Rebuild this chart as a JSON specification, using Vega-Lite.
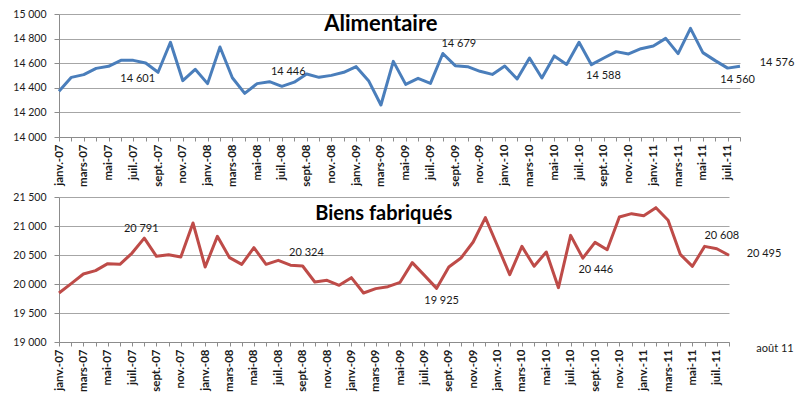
{
  "$schema": "https://vega.github.io/schema/vega-lite/v6.json",
  "background": "white",
  "padding": {"left": 12, "top": 9, "right": 2, "bottom": 2},
  "config": {
    "font": "Lato",
    "locale": {"number": {"decimal": ",", "thousands": "\u00a0", "grouping": [3], "currency": ["", " €"]}},
    "view": {"stroke": null},
    "axis": {"domainColor": "#8c8c8c", "tickColor": "#8c8c8c", "gridColor": "#a6a6a6", "labelColor": "#1a1a1a", "labelFont": "Lato", "title": null},
    "text": {"font": "Lato", "fontSize": 11, "color": "#1a1a1a"}
  },
  "datasets": {
    "d": [
      {"mois": "janv.-07", "alim": 14371, "biens": 19845},
      {"mois": "févr.-07", "alim": 14485, "biens": 20006},
      {"mois": "mars-07", "alim": 14507, "biens": 20172},
      {"mois": "avr.-07", "alim": 14558, "biens": 20230},
      {"mois": "mai-07", "alim": 14575, "biens": 20351},
      {"mois": "juin-07", "alim": 14623, "biens": 20339},
      {"mois": "juil.-07", "alim": 14623, "biens": 20534},
      {"mois": "août-07", "alim": 14601, "biens": 20791},
      {"mois": "sept.-07", "alim": 14526, "biens": 20477},
      {"mois": "oct.-07", "alim": 14770, "biens": 20506},
      {"mois": "nov.-07", "alim": 14458, "biens": 20466},
      {"mois": "déc.-07", "alim": 14550, "biens": 21052},
      {"mois": "janv.-08", "alim": 14434, "biens": 20293},
      {"mois": "févr.-08", "alim": 14732, "biens": 20822},
      {"mois": "mars-08", "alim": 14482, "biens": 20454},
      {"mois": "avr.-08", "alim": 14355, "biens": 20339},
      {"mois": "mai-08", "alim": 14434, "biens": 20626},
      {"mois": "juin-08", "alim": 14450, "biens": 20339},
      {"mois": "juil.-08", "alim": 14412, "biens": 20408},
      {"mois": "août-08", "alim": 14446, "biens": 20324},
      {"mois": "sept.-08", "alim": 14512, "biens": 20310},
      {"mois": "oct.-08", "alim": 14485, "biens": 20034},
      {"mois": "nov.-08", "alim": 14501, "biens": 20063},
      {"mois": "déc.-08", "alim": 14526, "biens": 19977},
      {"mois": "janv.-09", "alim": 14572, "biens": 20109},
      {"mois": "févr.-09", "alim": 14458, "biens": 19845},
      {"mois": "mars-09", "alim": 14260, "biens": 19920},
      {"mois": "avr.-09", "alim": 14615, "biens": 19954},
      {"mois": "mai-09", "alim": 14428, "biens": 20029},
      {"mois": "juin-09", "alim": 14477, "biens": 20368},
      {"mois": "juil.-09", "alim": 14436, "biens": 20149},
      {"mois": "août-09", "alim": 14679, "biens": 19925},
      {"mois": "sept.-09", "alim": 14580, "biens": 20293},
      {"mois": "oct.-09", "alim": 14572, "biens": 20448},
      {"mois": "nov.-09", "alim": 14534, "biens": 20724},
      {"mois": "déc.-09", "alim": 14509, "biens": 21144},
      {"mois": "janv.-10", "alim": 14577, "biens": 20655},
      {"mois": "févr.-10", "alim": 14472, "biens": 20161},
      {"mois": "mars-10", "alim": 14642, "biens": 20649},
      {"mois": "avr.-10", "alim": 14480, "biens": 20305},
      {"mois": "mai-10", "alim": 14659, "biens": 20552},
      {"mois": "juin-10", "alim": 14590, "biens": 19937},
      {"mois": "juil.-10", "alim": 14770, "biens": 20839},
      {"mois": "août-10", "alim": 14588, "biens": 20446},
      {"mois": "sept.-10", "alim": 14642, "biens": 20718},
      {"mois": "oct.-10", "alim": 14694, "biens": 20592},
      {"mois": "nov.-10", "alim": 14675, "biens": 21155},
      {"mois": "déc.-10", "alim": 14718, "biens": 21213},
      {"mois": "janv.-11", "alim": 14740, "biens": 21178},
      {"mois": "févr.-11", "alim": 14802, "biens": 21316},
      {"mois": "mars-11", "alim": 14678, "biens": 21098},
      {"mois": "avr.-11", "alim": 14883, "biens": 20511},
      {"mois": "mai-11", "alim": 14686, "biens": 20305},
      {"mois": "juin-11", "alim": 14621, "biens": 20649},
      {"mois": "juil.-11", "alim": 14560, "biens": 20608},
      {"mois": "août-11", "alim": 14576, "biens": 20495}
    ]
  },
  "spacing": 60,
  "bounds": "flush",
  "vconcat": [
    {
      "width": 681,
      "height": 123,
      "data": {"name": "d"},
      "encoding": {
        "x": {"field": "mois", "type": "ordinal", "sort": null,
          "scale": {"type": "point", "padding": 0, "domain": ["janv.-07","févr.-07","mars-07","avr.-07","mai-07","juin-07","juil.-07","août-07","sept.-07","oct.-07","nov.-07","déc.-07","janv.-08","févr.-08","mars-08","avr.-08","mai-08","juin-08","juil.-08","août-08","sept.-08","oct.-08","nov.-08","déc.-08","janv.-09","févr.-09","mars-09","avr.-09","mai-09","juin-09","juil.-09","août-09","sept.-09","oct.-09","nov.-09","déc.-09","janv.-10","févr.-10","mars-10","avr.-10","mai-10","juin-10","juil.-10","août-10","sept.-10","oct.-10","nov.-10","déc.-10","janv.-11","févr.-11","mars-11","avr.-11","mai-11","juin-11","juil.-11","août-11"]},
          "axis": {"labelAngle": -90, "labelFontWeight": "bold", "labelFontSize": 11.5, "tickSize": 4, "labelPadding": 3, "grid": false,
            "labelExpr": "indexof(['janv.','mars','mai','juil.','sept.','nov.'], split(datum.value, '-')[0]) >= 0 ? datum.value : ''"}},
        "y": {"field": "alim", "type": "quantitative",
          "scale": {"domain": [14000, 15000], "nice": false, "zero": false},
          "axis": {"values": [14000, 14200, 14400, 14600, 14800, 15000], "format": ",d", "labelFontSize": 10.5, "tickSize": 5, "labelPadding": 8, "grid": true}}
      },
      "layer": [
        {"mark": {"type": "line", "color": "#4A7EBB", "strokeWidth": 3, "strokeJoin": "round"}},
        {"transform": [{"filter": "datum.mois == 'août-07'"}], "mark": {"type": "text", "dx": -8, "dy": 16}, "encoding": {"text": {"field": "alim", "format": ",d"}}},
        {"transform": [{"filter": "datum.mois == 'août-08'"}], "mark": {"type": "text", "dx": -6, "dy": -10}, "encoding": {"text": {"field": "alim", "format": ",d"}}},
        {"transform": [{"filter": "datum.mois == 'août-09'"}], "mark": {"type": "text", "dx": 16, "dy": -9}, "encoding": {"text": {"field": "alim", "format": ",d"}}},
        {"transform": [{"filter": "datum.mois == 'août-10'"}], "mark": {"type": "text", "dx": 12, "dy": 11}, "encoding": {"text": {"field": "alim", "format": ",d"}}},
        {"transform": [{"filter": "datum.mois == 'juil.-11'"}], "mark": {"type": "text", "dx": 10, "dy": 12}, "encoding": {"text": {"field": "alim", "format": ",d"}}},
        {"transform": [{"filter": "datum.mois == 'août-11'"}], "mark": {"type": "text", "dx": 37, "dy": -3}, "encoding": {"text": {"field": "alim", "format": ",d"}}},
        {"transform": [{"filter": "datum.mois == 'mars-09'"}], "mark": {"type": "text", "fontSize": 22, "fontWeight": "bold", "color": "#000000"},
          "encoding": {"y": {"datum": 14919}, "text": {"value": "Alimentaire"}}}
      ]
    },
    {
      "width": 670,
      "height": 145,
      "data": {"name": "d"},
      "encoding": {
        "x": {"field": "mois", "type": "ordinal", "sort": null,
          "scale": {"type": "point", "padding": 0, "domain": ["janv.-07","févr.-07","mars-07","avr.-07","mai-07","juin-07","juil.-07","août-07","sept.-07","oct.-07","nov.-07","déc.-07","janv.-08","févr.-08","mars-08","avr.-08","mai-08","juin-08","juil.-08","août-08","sept.-08","oct.-08","nov.-08","déc.-08","janv.-09","févr.-09","mars-09","avr.-09","mai-09","juin-09","juil.-09","août-09","sept.-09","oct.-09","nov.-09","déc.-09","janv.-10","févr.-10","mars-10","avr.-10","mai-10","juin-10","juil.-10","août-10","sept.-10","oct.-10","nov.-10","déc.-10","janv.-11","févr.-11","mars-11","avr.-11","mai-11","juin-11","juil.-11","août-11"]},
          "axis": {"labelAngle": -90, "labelFontWeight": "bold", "labelFontSize": 11.5, "tickSize": 4, "labelPadding": 3, "grid": false,
            "labelExpr": "indexof(['janv.','mars','mai','juil.','sept.','nov.'], split(datum.value, '-')[0]) >= 0 ? datum.value : ''"}},
        "y": {"field": "biens", "type": "quantitative",
          "scale": {"domain": [19000, 21500], "nice": false, "zero": false},
          "axis": {"values": [19000, 19500, 20000, 20500, 21000, 21500], "format": ",d", "labelFontSize": 10.5, "tickSize": 5, "labelPadding": 8, "grid": true}}
      },
      "layer": [
        {"mark": {"type": "line", "color": "#BE4B48", "strokeWidth": 3, "strokeJoin": "round"}},
        {"transform": [{"filter": "datum.mois == 'août-07'"}], "mark": {"type": "text", "dx": -3, "dy": -9}, "encoding": {"text": {"field": "biens", "format": ",d"}}},
        {"transform": [{"filter": "datum.mois == 'août-08'"}], "mark": {"type": "text", "dx": 16, "dy": -12}, "encoding": {"text": {"field": "biens", "format": ",d"}}},
        {"transform": [{"filter": "datum.mois == 'août-09'"}], "mark": {"type": "text", "dx": 5, "dy": 13}, "encoding": {"text": {"field": "biens", "format": ",d"}}},
        {"transform": [{"filter": "datum.mois == 'août-10'"}], "mark": {"type": "text", "dx": 13, "dy": 12}, "encoding": {"text": {"field": "biens", "format": ",d"}}},
        {"transform": [{"filter": "datum.mois == 'juil.-11'"}], "mark": {"type": "text", "dx": 5, "dy": -13}, "encoding": {"text": {"field": "biens", "format": ",d"}}},
        {"transform": [{"filter": "datum.mois == 'août-11'"}], "mark": {"type": "text", "dx": 35, "dy": -1}, "encoding": {"text": {"field": "biens", "format": ",d"}}},
        {"transform": [{"filter": "datum.mois == 'mars-09'"}], "mark": {"type": "text", "fontSize": 20, "fontWeight": "bold", "color": "#000000", "dx": 8},
          "encoding": {"y": {"datum": 21212}, "text": {"value": "Biens fabriqués"}}},
        {"transform": [{"filter": "datum.mois == 'août-11'"}], "mark": {"type": "text", "dx": 46, "dy": 7},
          "encoding": {"y": {"datum": 19000}, "text": {"value": "août 11"}}}
      ]
    }
  ]
}
